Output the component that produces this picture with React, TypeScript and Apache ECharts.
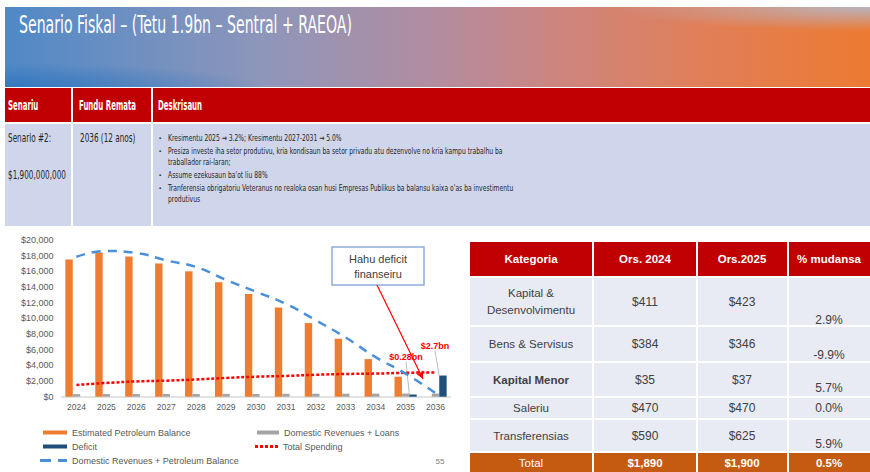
import React, { useEffect, useRef } from "react";
import * as echarts from "echarts";

// ---------------- DATA ----------------
const years = ["2024", "2025", "2026", "2027", "2028", "2029", "2030", "2031", "2032", "2033", "2034", "2035", "2036"];
const petroleumBalance = [17500, 18400, 17900, 17000, 16000, 14600, 13100, 11400, 9400, 7400, 4800, 2550, 0];
const domesticRevenuesLoans = [330, 340, 340, 350, 350, 360, 360, 370, 380, 380, 390, 400, 400];
const deficit = [0, 0, 0, 0, 0, 0, 0, 0, 0, 0, 0, 280, 2700];
const deficitLabels = ["", "", "", "", "", "", "", "", "", "", "", "$0.28bn", "$2.7bn"];
const revenuesPlusPetroleum = [17850, 18600, 18350, 17400, 16550, 14900, 13400, 11850, 9750, 7550, 5050, 2950, 450];
const totalSpending = [1500, 1750, 1950, 2050, 2200, 2400, 2550, 2650, 2800, 2900, 2950, 3050, 3100];

const seriesNames = [
  "Estimated Petroleum Balance",
  "Domestic Revenues + Loans",
  "Deficit",
  "Total Spending",
  "Domestic Revenues + Petroleum Balance",
];

const titleText = "Senario Fiskal – (Tetu 1.9bn – Sentral + RAEOA)";
const scenarioHeaders = ["Senariu", "Fundu Remata", "Deskrisaun"];
const scenarioName = "Senario #2:";
const scenarioAmount = "$1,900,000,000";
const scenarioEnd = "2036 (12 anos)";
const descriptionLines = [
  { bullet: true, text: "Kresimentu 2025 → 3.2%; Kresimentu 2027-2031 → 5.0%" },
  { bullet: true, text: "Presiza investe iha setor produtivu, kria kondisaun ba setor privadu atu dezenvolve no kria kampu trabalhu ba" },
  { bullet: false, text: "traballador rai-laran;" },
  { bullet: true, text: "Assume ezekusaun ba'ot liu 88%" },
  { bullet: true, text: "Tranferensia obrigatoriu Veteranus no realoka osan husi Empresas Publikus ba balansu kaixa o'as ba investimentu" },
  { bullet: false, text: "produtivus" },
];

const tableHeaders = ["Kategoria", "Ors. 2024", "Ors.2025", "% mudansa"];
const tableCategories = [["Kapital &", "Desenvolvimentu"], ["Bens & Servisus"], ["Kapital Menor"], ["Saleriu"], ["Transferensias"]];
const ors2024 = ["$411", "$384", "$35", "$470", "$590"];
const ors2025 = ["$423", "$346", "$37", "$470", "$625"];
const pctChange = ["2.9%", "-9.9%", "5.7%", "0.0%", "5.9%"];
const totalRow = ["Total", "$1,890", "$1,900", "0.5%"];
const annotationLines = ["Hahu deficit", "finanseiru"];
const pageNumber = "55";

// ---------------- LAYOUT ----------------
const NARROW = "'Liberation Sans Narrow', 'Arial Narrow', 'DejaVu Sans Condensed', 'Liberation Sans', sans-serif";
const SANS = "'Liberation Sans', Arial, sans-serif";

let measureCtx: CanvasRenderingContext2D | null = null;
function measure(text: string, size: number, weight: string, family: string) {
  if (!measureCtx) measureCtx = document.createElement("canvas").getContext("2d");
  if (!measureCtx) return text.length * size * 0.5;
  measureCtx.font = `${weight} ${size}px ${family}`;
  return measureCtx.measureText(text).width || text.length * size * 0.5;
}
function fit(text: string, size: number, weight: string, family: string, target: number) {
  return Math.min(1, target / measure(text, size, weight, family));
}

function txt(text: string, x: number, y: number, o: any = {}) {
  const align = o.align || "left";
  const va = o.va || "middle";
  return {
    type: "text",
    x,
    y,
    scaleX: o.scaleX || 1,
    silent: true,
    z: 10,
    style: {
      text,
      fill: o.fill || "#404040",
      fontSize: o.size || 10,
      fontFamily: o.family || NARROW,
      fontWeight: o.weight || "normal",
      align,
      verticalAlign: va,
      textAlign: align,
      textVerticalAlign: va,
    },
  };
}
function rect(x: number, y: number, w: number, h: number, fill: any, o: any = {}) {
  return {
    type: "rect",
    silent: true,
    z: o.z || 1,
    shape: { x, y, width: w, height: h },
    style: { fill, stroke: o.stroke || null, lineWidth: o.lineWidth || 0 },
  };
}

function buildGraphics() {
  const g: any[] = [];
  // Title band
  g.push(
    rect(5, 7, 865, 80, {
      type: "linear", x: 0, y: 0, x2: 1, y2: 0,
      colorStops: [
        { offset: 0, color: "#4F89C7" },
        { offset: 0.3, color: "#8E96BA" },
        { offset: 0.5, color: "#B38D9F" },
        { offset: 0.65, color: "#CF857D" },
        { offset: 0.82, color: "#E27E55" },
        { offset: 1, color: "#EC7A32" },
      ],
    })
  );
  g.push(
    rect(5, 7, 865, 80, {
      type: "radial", x: 0, y: 1, r: 0.3,
      colorStops: [
        { offset: 0, color: "rgba(45,115,190,0.8)" },
        { offset: 1, color: "rgba(45,115,190,0)" },
      ],
    }, { z: 2 })
  );
  g.push(
    rect(5, 7, 865, 80, {
      type: "radial", x: 1, y: 0, r: 0.3,
      colorStops: [
        { offset: 0, color: "rgba(185,180,192,1)" },
        { offset: 1, color: "rgba(185,180,192,0)" },
      ],
    }, { z: 2 })
  );
  g.push(txt(titleText, 19, 25, { fill: "#ffffff", size: 25, scaleX: fit(titleText, 25, "normal", NARROW, 333) }));

  // Scenario table
  g.push(rect(5, 88, 865, 34, "#C00000"));
  g.push(rect(5, 124, 865, 102, "#CFD5EA"));
  g.push(rect(71, 88, 2, 138, "#ffffff", { z: 3 }));
  g.push(rect(151, 88, 2, 138, "#ffffff", { z: 3 }));
  const hx = [8, 79, 158];
  const hScale = fit("Fundu Remata", 14, "bold", NARROW, 57);
  scenarioHeaders.forEach((h, i) => g.push(txt(h, hx[i], 105, { fill: "#ffffff", size: 14, weight: "bold", scaleX: hScale })));
  const bScale = fit(scenarioAmount, 11.5, "normal", NARROW, 58);
  g.push(txt(scenarioName, 8, 138, { fill: "#262626", size: 11.5, scaleX: bScale }));
  g.push(txt(scenarioAmount, 8, 175, { fill: "#262626", size: 11.5, scaleX: bScale }));
  g.push(txt(scenarioEnd, 80, 138, { fill: "#262626", size: 11.5, scaleX: bScale }));
  const ly = [138, 151, 162, 175, 188, 199];
  const dScale = fit(descriptionLines[1].text, 9.5, "normal", NARROW, 335);
  descriptionLines.forEach((l, i) => {
    if (l.bullet) g.push(txt("▪", 159, ly[i], { fill: "#262626", size: 6, family: SANS }));
    g.push(txt(l.text, 168, ly[i], { fill: "#262626", size: 9.5, scaleX: dScale }));
  });

  // Budget table
  const colX = [470, 593, 697, 788, 870];
  const colC = [531, 645, 742, 829];
  g.push(rect(470, 242, 400, 34, "#C00000"));
  tableHeaders.forEach((h, i) => g.push(txt(h, colC[i], 259, { fill: "#ffffff", size: 11.5, weight: "bold", align: "center", family: SANS })));
  const rows = [[278, 325], [327, 361], [363, 396], [398, 418], [420, 451]];
  const pctY = [320, 355, 388, 408, 444];
  rows.forEach(([a, b], i) => {
    g.push(rect(470, a, 400, b - a, "#E9EBF4"));
    const c = (a + b) / 2;
    const cat = tableCategories[i];
    const bold = cat[0] === "Kapital Menor";
    cat.forEach((t, k) => g.push(txt(t, colC[0], c + (k - (cat.length - 1) / 2) * 17, { size: 11.5, align: "center", family: SANS, weight: bold ? "bold" : "normal" })));
    g.push(txt(ors2024[i], colC[1], c, { size: 12, align: "center", family: SANS }));
    g.push(txt(ors2025[i], colC[2], c, { size: 12, align: "center", family: SANS }));
    g.push(txt(pctChange[i], colC[3], pctY[i], { size: 12, align: "center", family: SANS }));
  });
  g.push(rect(470, 453, 400, 19, "#C55A11"));
  totalRow.forEach((t, i) => g.push(txt(t, colC[i], 463, { fill: "#ffffff", size: 11.5, align: "center", family: SANS, weight: i === 0 ? "normal" : "bold" })));
  for (let i = 1; i < 4; i++) g.push(rect(colX[i] - 1, 242, 2, 230, "#ffffff", { z: 3 }));

  // Annotation box
  g.push(rect(332, 247, 92, 38, "#ffffff", { stroke: "#8FAADC", lineWidth: 1.5, z: 5 }));
  annotationLines.forEach((t, i) => g.push(txt(t, 378, 259 + i * 15, { size: 11, align: "center", fill: "#404040", family: SANS })));

  g.push(txt(pageNumber, 440, 461, { size: 8, fill: "#808080", family: SANS, align: "center" }));
  return g;
}

const legendBase = {
  orient: "horizontal",
  padding: 0,
  itemHeight: 4,
  textStyle: { fontSize: 9, color: "#595959", fontFamily: SANS },
  selectedMode: false,
};

function buildOption(): any {
  return {
    animation: false,
    backgroundColor: "#ffffff",
    grid: { left: 61.5, right: 419.5, top: 240, bottom: 75.3, containLabel: false },
    xAxis: {
      type: "category",
      data: years,
      axisLine: { lineStyle: { color: "#D9D9D9", width: 1.5 } },
      axisTick: { show: false },
      axisLabel: { fontSize: 8.5, color: "#595959", margin: 6, fontFamily: SANS, interval: 0 },
    },
    yAxis: {
      type: "value",
      min: 0,
      max: 20000,
      interval: 2000,
      splitLine: { show: false },
      axisLine: { show: false },
      axisTick: { show: false },
      axisLabel: {
        fontSize: 9,
        color: "#595959",
        margin: 8,
        fontFamily: SANS,
        formatter: (v: number) => "$" + v.toLocaleString("en-US"),
      },
    },
    legend: [
      { ...legendBase, data: [{ name: seriesNames[0], icon: "rect" }], left: 43, top: 428, itemWidth: 24 },
      { ...legendBase, data: [{ name: seriesNames[1], icon: "rect" }], left: 257, top: 428, itemWidth: 22 },
      { ...legendBase, data: [{ name: seriesNames[2], icon: "rect" }], left: 43, top: 442, itemWidth: 24 },
      {
        ...legendBase,
        data: [{ name: seriesNames[3], icon: "path://M0,0h3v3h-3z M5,0h3v3h-3z M10,0h3v3h-3z M15,0h3v3h-3z M20,0h3v3h-3z" }],
        left: 255, top: 442, itemWidth: 23, itemHeight: 3,
      },
      {
        ...legendBase,
        data: [{ name: seriesNames[4], icon: "path://M0,0h11v3h-11z M18,0h9v3h-9z" }],
        left: 40, top: 456, itemWidth: 27, itemHeight: 3,
      },
    ],
    graphic: { elements: buildGraphics() },
    series: [
      {
        name: seriesNames[0],
        type: "bar",
        data: petroleumBalance,
        barWidth: 7.4,
        barGap: "0%",
        itemStyle: { color: "#ED7D31" },
      },
      {
        name: seriesNames[1],
        type: "bar",
        data: domesticRevenuesLoans,
        barWidth: 7.4,
        barGap: "0%",
        itemStyle: { color: "#A5A5A5" },
      },
      {
        name: seriesNames[2],
        type: "bar",
        barWidth: 7.4,
        barGap: "0%",
        itemStyle: { color: "#1F4E79" },
        data: deficit.map((v, i) => (deficitLabels[i] ? { value: v, label: { show: true } } : v)),
        label: {
          show: false,
          position: "top",
          color: "#FF0000",
          fontSize: 9,
          fontWeight: "bold",
          fontFamily: SANS,
          formatter: (p: any) => deficitLabels[p.dataIndex],
        },
        labelLayout: (p: any) => (p.dataIndex === 11 ? { dx: -7, dy: -28 } : { dx: -8, dy: -20 }),
        labelLine: { show: true, lineStyle: { color: "#BFBFBF", width: 1 } },
        z: 4,
      },
      {
        name: seriesNames[3],
        type: "line",
        data: totalSpending,
        smooth: true,
        symbol: "none",
        itemStyle: { color: "#FF0000" },
        lineStyle: { color: "#FF0000", width: 2.5, type: [3, 2] },
        z: 5,
        markLine: {
          silent: true,
          symbol: ["none", "arrow"],
          symbolSize: [6, 8],
          lineStyle: { color: "#FF0000", width: 1.2, type: "solid" },
          label: { show: false },
          data: [[{ x: 377, y: 285 }, { x: 423, y: 379 }]],
        },
      },
      {
        name: seriesNames[4],
        type: "line",
        data: revenuesPlusPetroleum,
        smooth: true,
        symbol: "none",
        itemStyle: { color: "#4A90D9" },
        lineStyle: { color: "#4A90D9", width: 2.5, type: [9, 7] },
        z: 6,
      },
    ],
  };
}

export default function App() {
  const ref = useRef<HTMLDivElement>(null);
  useEffect(() => {
    if (!ref.current) return;
    const chart = echarts.init(ref.current, null, { renderer: "svg" });
    chart.setOption(buildOption());
    return () => chart.dispose();
  }, []);
  return (
    <div
      ref={ref}
      style={{ position: "fixed", left: 0, top: 0, width: 870, height: 472, background: "#ffffff" }}
    />
  );
}
